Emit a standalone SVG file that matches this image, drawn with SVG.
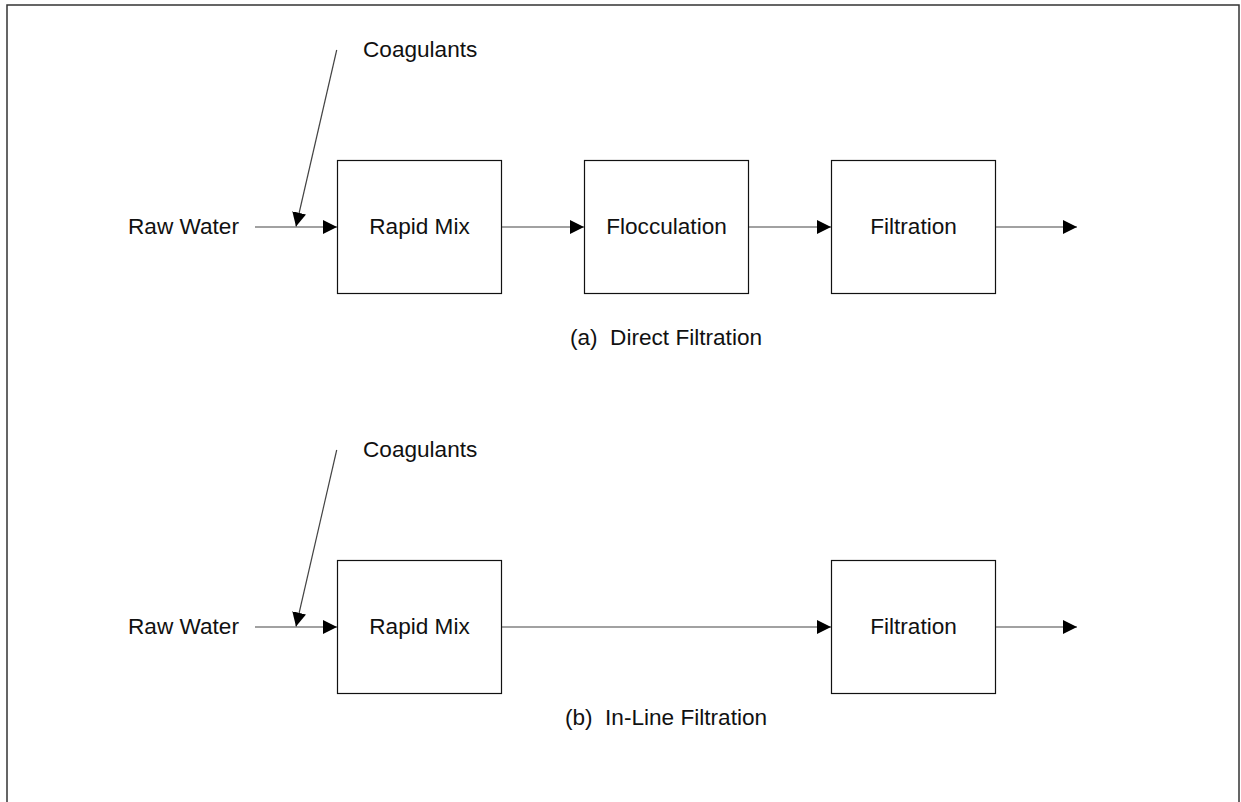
<svg xmlns="http://www.w3.org/2000/svg" width="1241" height="802" viewBox="0 0 1241 802">
  <style>
    .frame { fill: none; stroke: #333; stroke-width: 1.5; }
    .box { fill: #fff; stroke: #111; stroke-width: 1.2; }
    .flow { fill: none; stroke: #444; stroke-width: 1.2; marker-end: url(#head); }
    .label { font-family: "Liberation Sans", Arial, sans-serif; font-size: 22.6px; fill: #111; }
    .mid { text-anchor: middle; }
  </style>
  <defs>
    <marker id="head" markerUnits="userSpaceOnUse" markerWidth="14" markerHeight="14" viewBox="0 0 12 12" refX="12" refY="6" orient="auto">
      <path d="M0,0 L12,6 L0,12 Z" fill="#000"/>
    </marker>
  </defs>

  <rect width="1241" height="802" fill="#fff"/>
  <rect class="frame" x="7" y="5" width="1232" height="820"/>

  <!-- (a) direct filtration train -->
  <g id="a-raw-water"><text class="label mid" x="183.5" y="234">Raw Water</text></g>
  <g id="a-coagulants"><text class="label" x="363" y="57">Coagulants</text></g>
  <g id="a-rapid-mix">
    <rect class="box" x="337.5" y="160.5" width="164" height="133"/>
    <text class="label mid" x="419.5" y="234">Rapid Mix</text>
  </g>
  <g id="a-flocculation">
    <rect class="box" x="584.5" y="160.5" width="164" height="133"/>
    <text class="label mid" x="666.5" y="234">Flocculation</text>
  </g>
  <g id="a-filtration">
    <rect class="box" x="831.5" y="160.5" width="164" height="133"/>
    <text class="label mid" x="913.5" y="234">Filtration</text>
  </g>
  <g id="a-caption"><text class="label mid" x="666" y="345" xml:space="preserve">(a)  Direct Filtration</text></g>

  <!-- (b) in-line filtration train -->
  <g id="b-raw-water"><text class="label mid" x="183.5" y="634">Raw Water</text></g>
  <g id="b-coagulants"><text class="label" x="363" y="457">Coagulants</text></g>
  <g id="b-rapid-mix">
    <rect class="box" x="337.5" y="560.5" width="164" height="133"/>
    <text class="label mid" x="419.5" y="634">Rapid Mix</text>
  </g>
  <g id="b-filtration">
    <rect class="box" x="831.5" y="560.5" width="164" height="133"/>
    <text class="label mid" x="913.5" y="634">Filtration</text>
  </g>
  <g id="b-caption"><text class="label mid" x="666" y="725" xml:space="preserve">(b)  In-Line Filtration</text></g>

  <g id="connectors">
    <line class="flow" x1="255" y1="227" x2="337" y2="227"/>
    <line class="flow" x1="336.7" y1="50" x2="296" y2="226.5"/>
    <line class="flow" x1="502" y1="227" x2="584" y2="227"/>
    <line class="flow" x1="749" y1="227" x2="831" y2="227"/>
    <line class="flow" x1="996" y1="227" x2="1077" y2="227"/>

    <line class="flow" x1="255" y1="627" x2="337" y2="627"/>
    <line class="flow" x1="336.7" y1="450" x2="296" y2="626.5"/>
    <line class="flow" x1="502" y1="627" x2="831" y2="627"/>
    <line class="flow" x1="996" y1="627" x2="1077" y2="627"/>
  </g>
</svg>
